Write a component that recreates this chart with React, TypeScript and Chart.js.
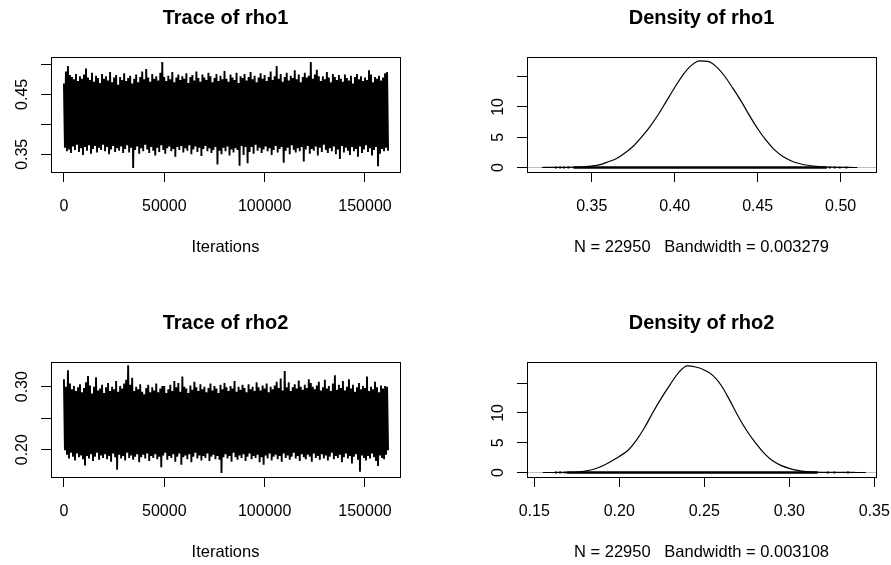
import React, { useEffect, useRef } from "react";
import { Chart, registerables } from "chart.js";

Chart.register(...registerables);

// ---------------- DATA ----------------
const THIN = 1000; // iterations between stored trace extremes

// Trace of rho1: alternating high / low excursions of the chain (one pair per 1000 iterations)
const rho1TraceUpper = [
  0.468, 0.488, 0.497, 0.482, 0.479, 0.475, 0.484, 0.472, 0.480, 0.476,
  0.483, 0.493, 0.478, 0.474, 0.486, 0.471, 0.481, 0.477, 0.469, 0.484,
  0.476, 0.480, 0.473, 0.487, 0.470, 0.478, 0.482, 0.466, 0.479, 0.474,
  0.485, 0.472, 0.477, 0.481, 0.468, 0.476, 0.483, 0.470, 0.479, 0.488,
  0.475, 0.492, 0.478, 0.471, 0.484, 0.476, 0.480, 0.473, 0.486, 0.504,
  0.479, 0.472, 0.481, 0.475, 0.487, 0.470, 0.478, 0.483, 0.474, 0.480,
  0.476, 0.485, 0.469, 0.479, 0.482, 0.473, 0.488, 0.477, 0.471, 0.483,
  0.478, 0.474, 0.486, 0.480, 0.470, 0.477, 0.484, 0.472, 0.481, 0.475,
  0.489, 0.476, 0.471, 0.483, 0.478, 0.474, 0.486, 0.469, 0.480, 0.477,
  0.484, 0.473, 0.479, 0.487, 0.475, 0.481, 0.470, 0.478, 0.485, 0.476,
  0.482, 0.472, 0.479, 0.488, 0.474, 0.480, 0.497, 0.476, 0.484, 0.471,
  0.479, 0.486, 0.473, 0.481, 0.477, 0.490, 0.475, 0.483, 0.470, 0.479,
  0.486, 0.478, 0.481, 0.504, 0.476, 0.483, 0.491, 0.480, 0.472, 0.480,
  0.475, 0.487, 0.478, 0.470, 0.484, 0.479, 0.474, 0.482, 0.476, 0.471,
  0.483, 0.477, 0.473, 0.481, 0.468, 0.479, 0.484, 0.475, 0.480, 0.472,
  0.478, 0.474, 0.490, 0.483, 0.470, 0.479, 0.476, 0.481, 0.473, 0.478, 0.485, 0.487,
];
const rho1TraceLower = [
  0.361, 0.355, 0.358, 0.352, 0.363, 0.357, 0.366, 0.354, 0.360, 0.349,
  0.362, 0.356, 0.365, 0.351, 0.359, 0.364, 0.353, 0.361, 0.357, 0.366,
  0.355, 0.362, 0.350, 0.358, 0.364, 0.354, 0.360, 0.356, 0.363, 0.352,
  0.359, 0.365, 0.353, 0.361, 0.327, 0.357, 0.363, 0.351, 0.360, 0.355,
  0.366, 0.358, 0.352, 0.362, 0.356, 0.348, 0.361, 0.354, 0.365, 0.357,
  0.351, 0.360, 0.363, 0.355, 0.359, 0.346, 0.362, 0.357, 0.364, 0.353,
  0.360, 0.356, 0.365, 0.350, 0.358, 0.363, 0.354, 0.361, 0.347, 0.359,
  0.364, 0.355, 0.360, 0.352, 0.357, 0.362, 0.333, 0.356, 0.350, 0.361,
  0.355, 0.363, 0.348, 0.358, 0.353, 0.360, 0.357, 0.331, 0.364, 0.349,
  0.362, 0.335, 0.354, 0.362, 0.351, 0.366, 0.356, 0.361, 0.352, 0.358,
  0.363, 0.355, 0.360, 0.349, 0.357, 0.364, 0.353, 0.359, 0.362, 0.336,
  0.356, 0.361, 0.350, 0.365, 0.357, 0.353, 0.360, 0.355, 0.362, 0.338,
  0.358, 0.364, 0.351, 0.359, 0.356, 0.363, 0.348, 0.361, 0.354, 0.366,
  0.357, 0.352, 0.360, 0.355, 0.363, 0.350, 0.358, 0.342, 0.364, 0.353,
  0.361, 0.356, 0.349, 0.362, 0.355, 0.359, 0.346, 0.363, 0.352, 0.358,
  0.365, 0.354, 0.360, 0.348, 0.357, 0.362, 0.330, 0.351, 0.359, 0.355, 0.361, 0.356,
];

// Trace of rho2
const rho2TraceUpper = [
  0.312, 0.300, 0.326, 0.305, 0.296, 0.301, 0.293, 0.299, 0.304, 0.291,
  0.298, 0.307, 0.317, 0.302, 0.289, 0.300, 0.315, 0.294, 0.297, 0.303,
  0.290, 0.299, 0.306, 0.293, 0.300, 0.296, 0.309, 0.292, 0.301, 0.297,
  0.305, 0.311, 0.334, 0.303, 0.314, 0.293, 0.300, 0.296, 0.304, 0.292,
  0.288, 0.298, 0.303, 0.291, 0.299, 0.294, 0.305, 0.291, 0.297, 0.301,
  0.301, 0.290, 0.296, 0.303, 0.293, 0.309, 0.299, 0.306, 0.292, 0.316,
  0.300, 0.297, 0.290, 0.302, 0.295, 0.308, 0.299, 0.293, 0.304, 0.296,
  0.300, 0.291, 0.298, 0.305, 0.294, 0.301, 0.297, 0.290, 0.303, 0.296,
  0.306, 0.299, 0.293, 0.301, 0.297, 0.309, 0.292, 0.300, 0.295, 0.303,
  0.298, 0.291, 0.304, 0.296, 0.300, 0.293, 0.307, 0.299, 0.294, 0.302,
  0.297, 0.305, 0.291, 0.300, 0.296, 0.302, 0.308, 0.298, 0.313, 0.294,
  0.325, 0.299, 0.307, 0.293, 0.299, 0.304, 0.297, 0.310, 0.300, 0.295,
  0.303, 0.298, 0.312, 0.306, 0.300, 0.296, 0.302, 0.308, 0.294, 0.299,
  0.311, 0.297, 0.301, 0.293, 0.305, 0.318, 0.295, 0.303, 0.298, 0.309,
  0.294, 0.300, 0.312, 0.297, 0.303, 0.292, 0.299, 0.306, 0.296, 0.301,
  0.298, 0.316, 0.293, 0.300, 0.296, 0.308, 0.299, 0.291, 0.302, 0.297, 0.301, 0.300,
];
const rho2TraceLower = [
  0.199, 0.192, 0.186, 0.195, 0.189, 0.183, 0.194, 0.188, 0.191, 0.185,
  0.175, 0.190, 0.186, 0.193, 0.182, 0.189, 0.195, 0.184, 0.191, 0.187,
  0.193, 0.185, 0.190, 0.181, 0.194, 0.188, 0.168, 0.192, 0.186, 0.190,
  0.183, 0.195, 0.187, 0.191, 0.184, 0.189, 0.193, 0.180, 0.188, 0.192,
  0.186, 0.194, 0.182, 0.190, 0.187, 0.193, 0.185, 0.189, 0.172, 0.191,
  0.195, 0.184, 0.190, 0.187, 0.193, 0.181, 0.189, 0.194, 0.176, 0.188,
  0.191, 0.185, 0.193, 0.180, 0.189, 0.195, 0.186, 0.191, 0.183, 0.190,
  0.187, 0.194, 0.182, 0.189, 0.192, 0.185, 0.190, 0.184, 0.163, 0.188,
  0.193, 0.186, 0.190, 0.181, 0.195, 0.188, 0.184, 0.191, 0.187, 0.193,
  0.182, 0.189, 0.194, 0.185, 0.190, 0.187, 0.192, 0.180, 0.188, 0.176,
  0.191, 0.186, 0.194, 0.183, 0.189, 0.192, 0.185, 0.190, 0.181, 0.194,
  0.187, 0.191, 0.184, 0.189, 0.195, 0.186, 0.190, 0.182, 0.193, 0.188,
  0.185, 0.192, 0.189, 0.181, 0.194, 0.187, 0.190, 0.184, 0.193, 0.186,
  0.191, 0.183, 0.189, 0.195, 0.185, 0.190, 0.187, 0.192, 0.180, 0.188,
  0.194, 0.186, 0.190, 0.178, 0.189, 0.193, 0.184, 0.165, 0.191, 0.187,
  0.183, 0.190, 0.186, 0.194, 0.188, 0.182, 0.174, 0.191, 0.187, 0.185, 0.192, 0.199,
];

// Density of rho1
const rho1DensityX = [
  0.320, 0.325, 0.330, 0.335, 0.340, 0.345, 0.350, 0.355, 0.360, 0.365,
  0.370, 0.375, 0.380, 0.385, 0.390, 0.395, 0.400, 0.405, 0.410, 0.415,
  0.420, 0.425, 0.430, 0.435, 0.440, 0.445, 0.450, 0.455, 0.460, 0.465,
  0.470, 0.475, 0.480, 0.485, 0.490, 0.495, 0.500, 0.505, 0.510,
];
const rho1DensityY = [
  0.00, 0.01, 0.02, 0.03, 0.06, 0.12, 0.24, 0.47, 0.95, 1.50,
  2.40, 3.50, 5.00, 6.70, 8.70, 10.95, 13.20, 15.30, 16.85, 17.60,
  17.50, 16.65, 15.10, 13.10, 10.95, 8.60, 6.40, 4.50, 2.95, 1.85,
  1.12, 0.66, 0.37, 0.20, 0.10, 0.05, 0.03, 0.01, 0.00,
];
const rho1RugSpan = [0.339, 0.4916];
const rho1RugDots = [0.3285, 0.331, 0.3333, 0.336, 0.4934, 0.4964, 0.4994, 0.5034];

// Density of rho2
const rho2DensityX = [
  0.155, 0.160, 0.165, 0.170, 0.175, 0.180, 0.185, 0.190, 0.195, 0.200,
  0.205, 0.210, 0.215, 0.220, 0.225, 0.230, 0.235, 0.240, 0.245, 0.250,
  0.255, 0.260, 0.265, 0.270, 0.275, 0.280, 0.285, 0.290, 0.295, 0.300,
  0.305, 0.310, 0.315, 0.320, 0.325, 0.330, 0.335, 0.340, 0.345,
];
const rho2DensityY = [
  0.00, 0.00, 0.01, 0.03, 0.08, 0.22, 0.55, 1.10, 1.85, 2.70,
  3.70, 5.40, 7.60, 10.20, 12.60, 14.80, 16.80, 17.90, 17.70, 17.20,
  16.30, 14.60, 12.10, 9.40, 7.00, 5.00, 3.30, 2.00, 1.20, 0.70,
  0.35, 0.15, 0.06, 0.03, 0.02, 0.01, 0.01, 0.00, 0.00,
];
const rho2RugSpan = [0.1691, 0.3167];
const rho2RugDots = [0.1628, 0.1652, 0.1681, 0.3226, 0.3265, 0.3345];

// Tick values and labels ("" = tick drawn without label, as R drops overlapping labels)
const traceXTicks = [0, 50000, 100000, 150000];
const traceXLabels = ["0", "50000", "100000", "150000"];
const rho1TraceYTicks = [0.35, 0.4, 0.45, 0.5];
const rho1TraceYLabels = ["0.35", "", "0.45", ""];
const rho2TraceYTicks = [0.2, 0.25, 0.3];
const rho2TraceYLabels = ["0.20", "", "0.30"];
const densityYTicks = [0, 5, 10, 15];
const densityYLabels = ["0", "5", "10", ""];
const rho1DensXTicks = [0.35, 0.4, 0.45, 0.5];
const rho1DensXLabels = ["0.35", "0.40", "0.45", "0.50"];
const rho2DensXTicks = [0.15, 0.2, 0.25, 0.3, 0.35];
const rho2DensXLabels = ["0.15", "0.20", "0.25", "0.30", "0.35"];

// ---------------- LAYOUT ----------------
const W = 891;
const H = 565;
const AXW = 12;
const FONT = '"Liberation Sans", Arial, Helvetica, sans-serif';

type Box = { left: number; top: number; right: number; bottom: number };
type Panel = {
  title: string;
  xTitle: string;
  box: Box;
  xMin: number; xMax: number; yMin: number; yMax: number;
  xTicks: number[]; xLabels: string[];
  yTicks: number[]; yLabels: string[];
  datasets: any[];
};

// The chain alternates between a high and a low excursion within each block of THIN iterations.
function traceDatasets(upper: number[], lower: number[]) {
  const pts: { x: number; y: number }[] = [];
  upper.forEach((u, i) => {
    pts.push({ x: i * THIN, y: u });
    pts.push({ x: i * THIN + THIN / 2, y: lower[i] });
  });
  return [
    {
      data: pts,
      borderColor: "#000", borderWidth: 1.9, pointRadius: 0, fill: false, tension: 0,
      borderJoinStyle: "miter",
    },
  ];
}

function densityDatasets(xs: number[], ys: number[], rugSpan: number[], rugDots: number[], xMin: number, xMax: number) {
  return [
    {
      data: xs.map((x, i) => ({ x, y: ys[i] })),
      borderColor: "#000", borderWidth: 1.2, pointRadius: 0, fill: false,
      cubicInterpolationMode: "monotone", order: 0,
    },
    {
      data: rugDots.map((x) => ({ x, y: 0 })),
      showLine: false, pointStyle: "rect", pointRadius: 1.4,
      pointBackgroundColor: "#000", pointBorderWidth: 0, order: 1,
    },
    {
      data: rugSpan.map((x) => ({ x, y: 0 })),
      borderColor: "#000", borderWidth: 2.5, pointRadius: 0, fill: false, order: 2,
    },
    {
      data: [{ x: xMin, y: 0 }, { x: xMax, y: 0 }],
      borderColor: "#bebebe", borderWidth: 1, pointRadius: 0, fill: false, order: 3,
    },
  ];
}

const TOP_ROW = { top: 57, bottom: 172 };
const BOT_ROW = { top: 362, bottom: 477 };
const LEFT_COL = { left: 51, right: 400 };
const RIGHT_COL = { left: 527, right: 876 };

const panels: Panel[] = [
  {
    title: "Trace of rho1",
    xTitle: "Iterations",
    box: { ...LEFT_COL, ...TOP_ROW },
    xMin: -6440, xMax: 167440, yMin: 0.3205, yMax: 0.5122,
    xTicks: traceXTicks, xLabels: traceXLabels,
    yTicks: rho1TraceYTicks, yLabels: rho1TraceYLabels,
    datasets: traceDatasets(rho1TraceUpper, rho1TraceLower),
  },
  {
    title: "Density of rho1",
    xTitle: "N = 22950   Bandwidth = 0.003279",
    box: { ...RIGHT_COL, ...TOP_ROW },
    xMin: 0.31102, xMax: 0.52127, yMin: -0.743, yMax: 18.235,
    xTicks: rho1DensXTicks, xLabels: rho1DensXLabels,
    yTicks: densityYTicks, yLabels: densityYLabels,
    datasets: densityDatasets(rho1DensityX, rho1DensityY, rho1RugSpan, rho1RugDots, 0.31102, 0.52127),
  },
  {
    title: "Trace of rho2",
    xTitle: "Iterations",
    box: { ...LEFT_COL, ...BOT_ROW },
    xMin: -6440, xMax: 167440, yMin: 0.15667, yMax: 0.33921,
    xTicks: traceXTicks, xLabels: traceXLabels,
    yTicks: rho2TraceYTicks, yLabels: rho2TraceYLabels,
    datasets: traceDatasets(rho2TraceUpper, rho2TraceLower),
  },
  {
    title: "Density of rho2",
    xTitle: "N = 22950   Bandwidth = 0.003108",
    box: { ...RIGHT_COL, ...BOT_ROW },
    xMin: 0.14571, xMax: 0.351, yMin: -0.755, yMax: 18.54,
    xTicks: rho2DensXTicks, xLabels: rho2DensXLabels,
    yTicks: densityYTicks, yLabels: densityYLabels,
    datasets: densityDatasets(rho2DensityX, rho2DensityY, rho2RugSpan, rho2RugDots, 0.14571, 0.351),
  },
];

function framePlugin(p: Panel) {
  return {
    id: "rFrame",
    afterDraw(chart: any) {
      const ctx = chart.ctx as CanvasRenderingContext2D;
      const { left, top, right, bottom } = chart.chartArea;
      const xs = chart.scales.x;
      const ys = chart.scales.y;
      ctx.save();
      ctx.strokeStyle = "#000";
      ctx.lineWidth = 1;
      ctx.strokeRect(Math.round(left) + 0.5, Math.round(top) + 0.5, Math.round(right - left), Math.round(bottom - top));

      ctx.fillStyle = "#000";
      ctx.font = `16px ${FONT}`;
      ctx.textAlign = "center";
      ctx.textBaseline = "alphabetic";
      p.xTicks.forEach((v, i) => {
        const lab = p.xLabels[i];
        if (!lab) return;
        ctx.fillText(lab, xs.getPixelForValue(v), bottom + 38.7);
      });
      p.yTicks.forEach((v, i) => {
        const lab = p.yLabels[i];
        if (!lab) return;
        ctx.save();
        ctx.translate(left - 24.3, ys.getPixelForValue(v));
        ctx.rotate(-Math.PI / 2);
        ctx.fillText(lab, 0, 0);
        ctx.restore();
      });

      ctx.font = `16.5px ${FONT}`;
      ctx.fillText(p.xTitle, (left + right) / 2, bottom + 79.7);

      ctx.font = `bold 20px ${FONT}`;
      ctx.fillText(p.title, (left + right) / 2, top - 33);
      ctx.restore();
    },
  };
}

function buildConfig(p: Panel): any {
  const axisCommon = {
    type: "linear",
    bounds: "data",
    ticks: { display: false },
    grid: { display: true, drawOnChartArea: false, drawTicks: true, tickLength: 10, color: "#000", lineWidth: 1 },
    border: { display: false },
  };
  return {
    type: "line",
    data: { datasets: p.datasets },
    options: {
      responsive: false,
      maintainAspectRatio: false,
      animation: false,
      events: [],
      layout: {
        padding: {
          left: p.box.left - AXW,
          top: p.box.top,
          right: W - p.box.right,
          bottom: H - p.box.bottom - AXW,
        },
      },
      plugins: { legend: { display: false }, tooltip: { enabled: false } },
      scales: {
        x: {
          ...axisCommon,
          position: "bottom",
          min: p.xMin,
          max: p.xMax,
          afterBuildTicks: (s: any) => { s.ticks = p.xTicks.map((v) => ({ value: v })); },
          afterFit: (s: any) => { s.height = AXW; },
        },
        y: {
          ...axisCommon,
          position: "left",
          min: p.yMin,
          max: p.yMax,
          afterBuildTicks: (s: any) => { s.ticks = p.yTicks.map((v) => ({ value: v })); },
          afterFit: (s: any) => { s.width = AXW; },
        },
      },
    },
    plugins: [framePlugin(p)],
  };
}

function PanelChart({ panel }: { panel: Panel }) {
  const ref = useRef<HTMLCanvasElement | null>(null);
  useEffect(() => {
    if (!ref.current) return;
    const chart = new Chart(ref.current, buildConfig(panel));
    return () => chart.destroy();
  }, [panel]);
  return (
    <canvas
      ref={ref}
      width={W}
      height={H}
      style={{ position: "absolute", left: 0, top: 0, width: W, height: H }}
    />
  );
}

export default function App() {
  return (
    <div style={{ position: "fixed", left: 0, top: 0, width: W, height: H, background: "#fff", overflow: "hidden" }}>
      {panels.map((p) => (
        <PanelChart key={p.title} panel={p} />
      ))}
    </div>
  );
}
